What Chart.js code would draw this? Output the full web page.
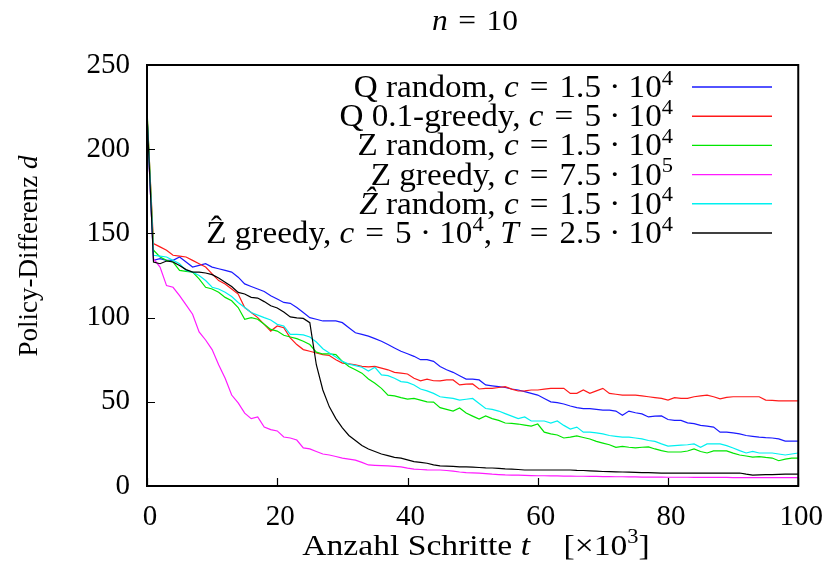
<!DOCTYPE html>
<html>
<head>
<meta charset="utf-8">
<script src="https://cdn.jsdelivr.net/npm/chart.js@4/dist/chart.umd.min.js"></script>
<style>
    body { margin: 0; background: #fff; }
    canvas { display: block; }
</style>
</head>
<body>
<canvas id="chart" width="834" height="576"></canvas>
<script>

// steps in units of 10^3
var steps = [0, 1, 2, 3, 4, 5, 6, 7, 8, 9, 10, 11, 12, 13, 14, 15, 16, 17, 18, 19,
    20, 21, 22, 23, 24, 25, 26, 27, 28, 29, 30, 31, 32, 33, 34, 35, 36, 37, 38, 39,
    40, 41, 42, 43, 44, 45, 46, 47, 48, 49, 50, 51, 52, 53, 54, 55, 56, 57, 58, 59,
    60, 61, 62, 63, 64, 65, 66, 67, 68, 69, 70, 71, 72, 73, 74, 75, 76, 77, 78, 79,
    80, 81, 82, 83, 84, 85, 86, 87, 88, 89, 90, 91, 92, 93, 94, 95, 96, 97, 98, 99, 100];

var xTicks = [0, 20, 40, 60, 80, 100];
var yTicks = [0, 50, 100, 150, 200, 250];

var qRandom = [220, 134, 135, 134, 134, 136, 133, 130, 131, 132,
    130, 129, 128, 127, 124, 120, 118.5, 117, 115.5, 113,
    111, 109, 108.5, 106, 103, 100, 99, 98, 98, 98,
    97, 94, 91, 90, 89, 87.5, 86, 84, 82, 80,
    78.5, 77, 75, 75, 74, 71, 69, 67.5, 65.5, 63.5,
    63.5, 63, 60, 59.5, 59, 58.5, 57.6, 57, 56, 55,
    54, 52, 50, 49.5, 48.7, 47.5, 46.5, 46, 46, 45.5,
    45, 45, 44.5, 42, 44.5, 43.5, 42.8, 41, 41.5, 41.6,
    39.5, 39, 39, 37.5, 37, 36, 35.5, 35, 32, 32,
    31.5, 31, 30, 29.5, 29, 28.7, 28.5, 28, 26.7, 26.7,
    26.7];

var qGreedy = [222, 144, 142, 140, 137, 136.5, 136, 134, 132, 130,
    126, 122, 120, 117, 114, 106, 103, 100, 96, 92,
    95, 94, 88, 84, 81, 80, 79, 78, 77.5, 75,
    73, 72.5, 72, 71, 70.7, 71, 70, 69, 67.5, 67,
    66.5, 64, 62.5, 63.5, 62.5, 62.4, 63, 63, 60, 60.5,
    60.6, 57.6, 58, 58, 58.5, 59, 57.5, 56.4, 56.5, 57,
    57, 57.5, 58, 58, 58, 55, 55, 57, 55, 56.5,
    58, 55, 54.5, 54, 54, 54, 53.5, 53, 52.5, 52,
    51, 52.5, 52, 52, 53, 53.5, 54, 53, 51.7, 52.6,
    53, 53, 53, 53, 53, 51, 50.8, 50.5, 50.5, 50.5,
    50.5];

var zRandom = [224, 140, 136, 134, 133, 128, 127.5, 127, 123, 118,
    117, 115, 112, 110, 106, 99, 100, 99, 96, 93,
    92, 89.5, 88.5, 87.5, 86, 84, 79.5, 78.4, 78.4, 78,
    74, 71, 69, 67, 63.5, 61, 58, 54, 53.5, 52.5,
    51.6, 52, 51, 50, 49.8, 46.5, 45.5, 44.5, 46.3, 43.3,
    41.5, 39.8, 41.6, 40, 39, 37.4, 37.2, 36.8, 36.2, 35.6,
    36.8, 32, 31, 30.3, 28.5, 29, 29.7, 28.8, 27.9, 26.5,
    25.5, 24.5, 23, 23.5, 23, 22.6, 23, 23.2, 22, 21,
    20.2, 20.2, 20.2, 20.8, 22, 20.5, 19.6, 20.8, 20.8, 20.8,
    19.5, 18.4, 17.8, 17.2, 17.5, 17, 16.6, 15, 16, 16.6,
    16.6];

var zGreedy = [218, 135, 130, 119, 118, 113, 107.5, 102, 91.5, 86.7,
    81, 72, 64, 54, 49.3, 43.3, 40, 41, 35, 33.5,
    32.7, 29.1, 28.5, 27.3, 22.6, 22, 20.5, 19, 18.4, 17.5,
    16.6, 16, 15.4, 14, 12.5, 12.3, 12.1, 11.9, 11.6, 11.3,
    10.6, 10, 9.8, 9.6, 9.5, 9.5, 9.2, 8.8, 8.3, 8,
    7.8, 7.6, 7.3, 7, 6.8, 6.6, 6.5, 6.4, 6.3, 6.2,
    6.1, 6.1, 6, 6, 5.9, 5.9, 5.8, 5.8, 5.7, 5.7,
    5.6, 5.6, 5.5, 5.5, 5.4, 5.4, 5.3, 5.3, 5.3, 5.3,
    5.2, 5.2, 5.2, 5.2, 5.1, 5.1, 5.1, 5.1, 5.1, 5.1,
    5, 5, 5, 5, 5, 5, 5, 5, 5, 5,
    5];

var zHatRandom = [220, 137, 136.5, 136, 134, 132, 128, 127, 125, 122,
    118, 117, 115, 112.5, 109, 106, 103, 101.5, 100, 98.6,
    96, 95, 90, 90, 89.7, 88.5, 85.5, 81.5, 79, 76.6,
    74, 72.4, 71.5, 70.5, 68.3, 70.5, 66, 65.5, 64, 62,
    61.5, 60, 57.6, 56.5, 55, 53, 52.5, 52, 51, 51.5,
    52, 49, 46, 45.5, 44.5, 43, 41.5, 40, 41, 38.6,
    38.6, 38.6, 37.4, 38.6, 36, 33.8, 35, 32, 32, 31.5,
    31, 30, 29.5, 29, 29, 28.5, 28, 27, 26.5, 25,
    23.7, 24, 24.3, 24.5, 25, 23, 25, 25, 25, 24,
    22.6, 21, 19.6, 20.5, 19.6, 19.6, 19.6, 19, 18.4, 19,
    19.6];

var zHatGreedy = [221, 133, 132, 133.6, 133, 131, 128.5, 127, 127, 126.5,
    125.5, 123.5, 121, 118.5, 115, 114, 112, 111.6, 109.5, 107,
    105.7, 103.3, 100.4, 99.8, 99.5, 97, 72, 57, 47, 40,
    34.5, 30, 27, 24, 22, 20.5, 19, 18, 17, 16.5,
    15.5, 14.5, 14, 13.5, 12.5, 12, 11.8, 11.6, 11.4, 11.3,
    11.2, 11, 10.8, 10.7, 10.5, 10.2, 10, 9.8, 9.5, 9.5,
    9.5, 9.5, 9.5, 9.5, 9.5, 9.5, 9.3, 9.2, 9, 8.8,
    8.6, 8.5, 8.4, 8.3, 8.2, 8.1, 8, 7.9, 7.8, 7.7,
    7.7, 7.7, 7.7, 7.7, 7.7, 7.7, 7.7, 7.7, 7.7, 7.7,
    7.7, 7.7, 7, 6.5, 6.6, 6.7, 6.8, 6.9, 7, 7,
    7];

// legend entries: [text, kind]  r = roman, i = italic, s = superscript
// (\u2004 = wider space, like the math spacing round "=")
var legendRows = [
    [['Q random, ', 'r'], ['c', 'i'], ['\u2004=\u20041.5 · 10', 'r'], ['4', 's']],
    [['Q 0.1-greedy, ', 'r'], ['c', 'i'], ['\u2004=\u20045 · 10', 'r'], ['4', 's']],
    [['Z random, ', 'r'], ['c', 'i'], ['\u2004=\u20041.5 · 10', 'r'], ['4', 's']],
    [['Z greedy, ', 'r'], ['c', 'i'], ['\u2004=\u20047.5 · 10', 'r'], ['5', 's']],
    [['\u1E90', 'i'], [' random, ', 'r'], ['c', 'i'], ['\u2004=\u20041.5 · 10', 'r'], ['4', 's']],
    [['\u1E90 greedy, ', 'r'], ['c', 'i'], ['\u2004=\u20045 · 10', 'r'], ['4', 's'], [', ', 'r'], ['T', 'i'], ['\u2004=\u20042.5 · 10', 'r'], ['4', 's']]
];
var titleText = [['n', 'i'], ['\u2004=\u200410', 'r']];
var xTitle = [['Anzahl Schritte ', 'r'], ['t', 'i'], ['    [×10', 'r'], ['3', 's'], [']', 'r']];
var yTitle = [['Policy-Differenz ', 'r'], ['d', 'i']];

var seriesList = [qRandom, qGreedy, zRandom, zGreedy, zHatRandom, zHatGreedy];
var colors = ['#1a1aff', '#ff1a1a', '#00e600', '#ff1aff', '#00f0f0', '#000000'];

var FONT = '"Liberation Serif", serif';

function fontFor(kind, size) {
    if (kind == 'i') return 'italic ' + size + 'px ' + FONT;
    if (kind == 's') return Math.round(size * 0.68) + 'px ' + FONT;
    return size + 'px ' + FONT;
}

// draws a line of mixed roman / italic / superscript text,
// stretched a bit sideways since Times is narrower than the TeX font
function drawRich(ctx, segs, x, y, align, size, sx) {
    var w = 0;
    for (var i = 0; i < segs.length; i++) {
        ctx.font = fontFor(segs[i][1], size);
        w += ctx.measureText(segs[i][0]).width * sx;
    }
    var cx = x;
    if (align == 'right') cx = x - w;
    if (align == 'center') cx = x - w / 2;
    ctx.textAlign = 'left';
    ctx.textBaseline = 'alphabetic';
    ctx.fillStyle = '#000';
    for (var i = 0; i < segs.length; i++) {
        ctx.font = fontFor(segs[i][1], size);
        var dy = segs[i][1] == 's' ? -size * 0.4 : 0;
        ctx.save();
        ctx.translate(cx, y + dy);
        ctx.scale(sx, 1);
        ctx.fillText(segs[i][0], 0, 0);
        ctx.restore();
        cx += ctx.measureText(segs[i][0]).width * sx;
    }
}

var gnuplotLook = {
    id: 'gnuplotLook',
    afterDraw: function (chart) {
        var ctx = chart.ctx;
        var a = chart.chartArea;
        var xs = chart.scales.x;
        var ys = chart.scales.y;
        ctx.save();

        // inward tick marks
        ctx.strokeStyle = '#000';
        ctx.lineWidth = 1.2;
        ctx.beginPath();
        xTicks.forEach(function (v) {
            var px = Math.round(xs.getPixelForValue(v)) + 0.5;
            ctx.moveTo(px, a.bottom);
            ctx.lineTo(px, a.bottom - 8);
        });
        yTicks.forEach(function (v) {
            var py = Math.round(ys.getPixelForValue(v)) + 0.5;
            ctx.moveTo(a.left, py);
            ctx.lineTo(a.left + 8, py);
        });
        ctx.stroke();

        // frame
        ctx.lineWidth = 2;
        ctx.strokeRect(a.left, a.top, a.right - a.left, a.bottom - a.top);

        // legend
        for (var i = 0; i < legendRows.length; i++) {
            var ry = 87 + i * 29.2;
            drawRich(ctx, legendRows[i], 673, ry + 10, 'right', 31, 1.07);
            ctx.strokeStyle = colors[i];
            ctx.lineWidth = 1.4;
            ctx.beginPath();
            ctx.moveTo(692, ry);
            ctx.lineTo(772, ry);
            ctx.stroke();
        }

        // titles
        drawRich(ctx, titleText, 475, 30, 'center', 30, 1.05);
        drawRich(ctx, xTitle, 476, 555, 'center', 30, 1.12);
        ctx.translate(37, 256);
        ctx.rotate(-Math.PI / 2);
        drawRich(ctx, yTitle, 0, 0, 'center', 27, 1.0);
        ctx.restore();
    }
};

var datasets = [];
for (var i = 0; i < seriesList.length; i++) {
    datasets.push({
        data: seriesList[i],
        borderColor: colors[i],
        borderWidth: 1.2,
        pointRadius: 0,
        tension: 0,
        fill: false,
        order: seriesList.length - i   // later series on top, like gnuplot
    });
}

var tickFont = { family: FONT, size: 29 };

new Chart(document.getElementById('chart'), {
    type: 'line',
    data: { labels: steps, datasets: datasets },
    options: {
        responsive: false,
        animation: false,
        devicePixelRatio: 1,
        layout: { padding: { top: 65, right: 27, left: 0, bottom: 0 } },
        plugins: { legend: { display: false }, tooltip: { enabled: false } },
        scales: {
            x: {
                type: 'linear',
                min: 0,
                max: 100,
                ticks: { stepSize: 20, font: tickFont, color: '#000', padding: 14, labelOffset: 3, maxRotation: 0 },
                grid: { display: false, drawTicks: false },
                border: { display: false },
                afterFit: function (s) { s.height = 90; }
            },
            y: {
                min: 0,
                max: 250,
                ticks: { stepSize: 50, font: tickFont, color: '#000', padding: 17 },
                grid: { display: false, drawTicks: false },
                border: { display: false },
                afterFit: function (s) { s.width = 147; }
            }
        }
    },
    plugins: [gnuplotLook]
});

</script>
</body>
</html>
